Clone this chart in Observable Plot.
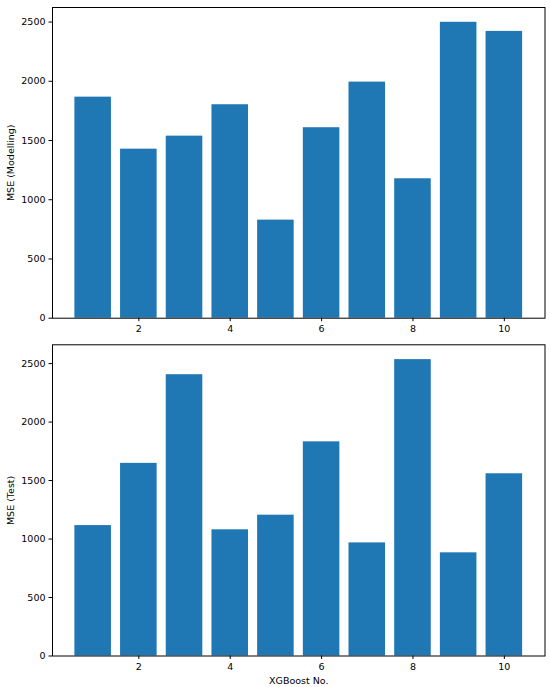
<!DOCTYPE html>
<html>
<head>
<meta charset="utf-8">
<script src="https://cdn.jsdelivr.net/npm/d3@7"></script>
<script src="https://cdn.jsdelivr.net/npm/@observablehq/plot@0.6"></script>
<style>
  html, body { margin: 0; padding: 0; background: #fff; }
  #chart { width: 550px; }
  #chart svg { display: block; }
</style>
</head>
<body>
<div id="chart"></div>
<script>
const models = [1, 2, 3, 4, 5, 6, 7, 8, 9, 10];
const mseModelling = [1866, 1427, 1537, 1802, 828, 1608, 1993, 1177, 2498, 2421];
const mseTest = [1115, 1647, 2405, 1079, 1204, 1831, 967, 2534, 882, 1558];
const xTicks = [2, 4, 6, 8, 10];
const yTicks = [0, 500, 1000, 1500, 2000, 2500];

const barColor = "#1f77b4";
const font = "DejaVu Sans, sans-serif";

function panel(values, yLabel, xLabel, opts) {
  const data = models.map((m, i) => ({ m, v: values[i] }));
  const ymax = d3.max(values) * 1.05;
  return Plot.plot({
    width: 550,
    height: opts.height,
    marginLeft: 52,
    marginRight: 5.5,
    marginTop: opts.marginTop,
    marginBottom: opts.marginBottom,
    style: { fontFamily: font, fontSize: "9.5px", color: "#000", background: "#fff", overflow: "visible" },
    x: { domain: [0.11, 10.89] },
    y: { domain: [0, ymax] },
    marks: [
      Plot.rect(data, { x1: d => d.m - 0.4, x2: d => d.m + 0.4, y1: 0, y2: "v", fill: barColor }),
      Plot.frame({ stroke: "#000", strokeWidth: 1 }),
      Plot.axisY({ ticks: yTicks, tickFormat: d3.format("d"), tickSize: 3.5, tickPadding: 3.5, label: yLabel, labelAnchor: "center", labelArrow: "none", labelOffset: 45, fontSize: 9.5 }),
      Plot.axisX({ ticks: xTicks, tickFormat: d3.format("d"), tickSize: 3.5, tickPadding: 3.5, label: xLabel, labelAnchor: "center", labelArrow: "none", labelOffset: 28, fontSize: 9.5 })
    ]
  });
}

const el = document.getElementById("chart");
el.appendChild(panel(mseModelling, "MSE (Modelling)", null, { height: 338, marginTop: 7, marginBottom: 20.3 }));
el.appendChild(panel(mseTest, "MSE (Test)", "XGBoost No.", { height: 349, marginTop: 6.3, marginBottom: 31.5 }));
</script>
</body>
</html>
